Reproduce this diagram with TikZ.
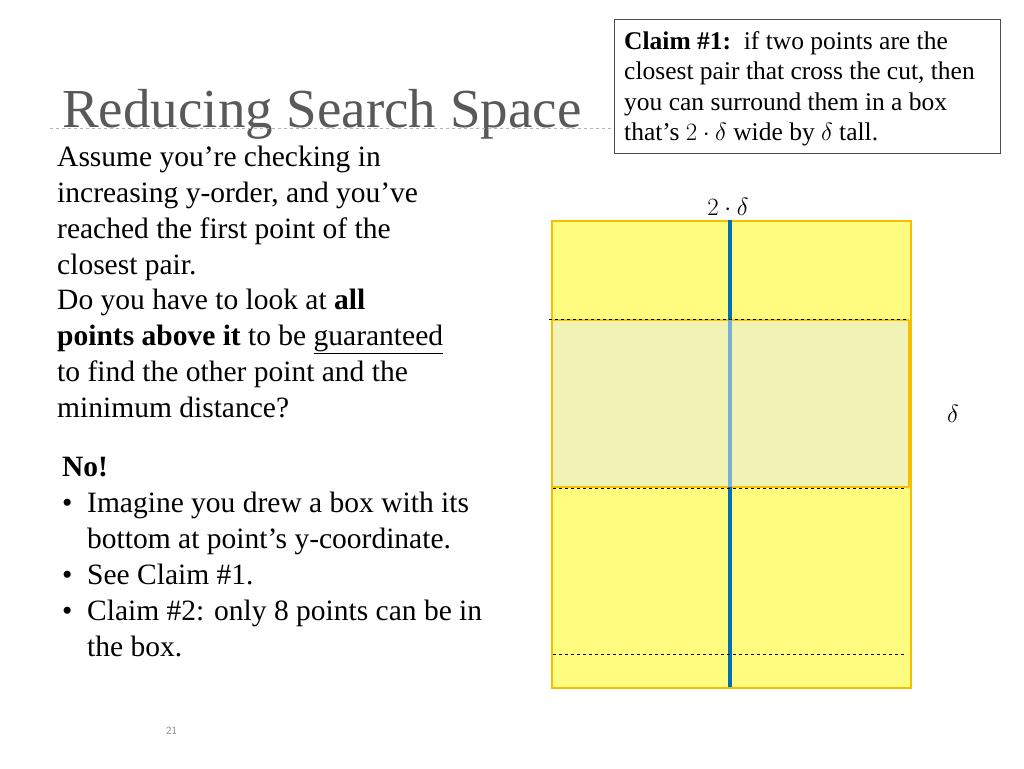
\documentclass[tikz,border=0pt]{standalone}
\usepackage{fontspec}
\setmainfont{Liberation Serif}
\definecolor{boxedge}{RGB}{245,192,0}
\definecolor{boxfill}{RGB}{255,252,128}
\definecolor{midfill}{RGB}{240,242,182}
\definecolor{cutblue}{RGB}{0,112,180}
\definecolor{cutlight}{RGB}{120,175,210}
\begin{document}
\begin{tikzpicture}[x=1pt,y=-1pt,
  txt/.style={anchor=base west,inner sep=0pt,font=\fontsize{29.5}{36}\selectfont},
  ctx/.style={anchor=base west,inner sep=0pt,font=\fontsize{25.5}{30}\selectfont},
  dsh/.style={dashed,black,line width=0.8pt}]
\useasboundingbox (0,0) rectangle (1024,768);
% title
\node (title) [anchor=base west,inner sep=0pt,text=black!65,font=\fontsize{55}{60}\selectfont] at (62,127) {Reducing Search Space};
\draw[black!30,dashed,line width=0.6pt] (50,128) -- (975,128);
% claim box
\node (claim) [draw=black!70,fill=white,line width=0.8pt,anchor=north west,minimum width=386pt,minimum height=134pt,inner sep=0pt] at (614,19) {};
\node (c1) [ctx] at (624,49) {\textbf{Claim \#1:}\ \ if two points are the};
\node (c2) [ctx] at (624,79) {closest pair that cross the cut, then};
\node (c3) [ctx] at (624,110) {you can surround them in a box};
\node (c4) [ctx] at (624,140) {that’s $2\cdot\delta$ wide by $\delta$ tall.};
% left text
\node (t1) [txt] at (57,166) {Assume you’re checking in};
\node (t2) [txt] at (57,202) {increasing y-order, and you’ve};
\node (t3) [txt] at (57,238) {reached the first point of the};
\node (t4) [txt] at (57,274) {closest pair.};
\node (t5) [txt] at (57,309) {Do you have to look at \textbf{all}};
\node (t6) [txt] at (57,345) {\textbf{points above it} to be \underline{guaranteed}};
\node (t7) [txt] at (57,381) {to find the other point and the};
\node (t8) [txt] at (57,417) {minimum distance?};
\node (no) [txt] at (62,476) {\textbf{No!}};
\node (b1) [txt] at (62,512) {•};
\node (b1t) [txt] at (87,512) {Imagine you drew a box with its};
\node (b1u) [txt] at (87,548) {bottom at point’s y-coordinate.};
\node (b2) [txt] at (62,584) {•};
\node (b2t) [txt] at (87,584) {See Claim \#1.};
\node (b3) [txt] at (62,620) {•};
\node (b3t) [txt] at (87,620) {Claim \#2: only 8 points can be in};
\node (b3u) [txt] at (87,656) {the box.};
\node (pg) [anchor=base west,inner sep=0pt,text=black!50,font=\fontsize{11}{13}\sffamily] at (166,734) {21};
% box
\node (big) [draw=boxedge,fill=boxfill,line width=2pt,anchor=north west,minimum width=359pt,minimum height=467pt,inner sep=0pt] at (551,220) {};
\fill[midfill] (552,320) rectangle (909,487);
\draw[boxedge,line width=1.6pt] (552,320) -- (909,320) (552,487) -- (909,487) (552,320)--(552,487)(909,320)--(909,487);
\draw[cutblue,line width=3.5pt] (730,220) -- (730,320) (730,487) -- (730,687);
\draw[cutlight,line width=3.5pt] (730,320) -- (730,487);
\draw[dsh] (549,319) -- (907,319);
\draw[dsh] (553,488) -- (907,488);
\draw[dsh] (553,654) -- (907,654);
\node (w) [anchor=base,inner sep=0pt,font=\fontsize{27}{30}\selectfont] at (728,215) {$2\cdot\delta$};
\node (h) [anchor=base,inner sep=0pt,font=\fontsize{28}{30}\selectfont] at (953,422) {$\delta$};
\end{tikzpicture}
\end{document}
